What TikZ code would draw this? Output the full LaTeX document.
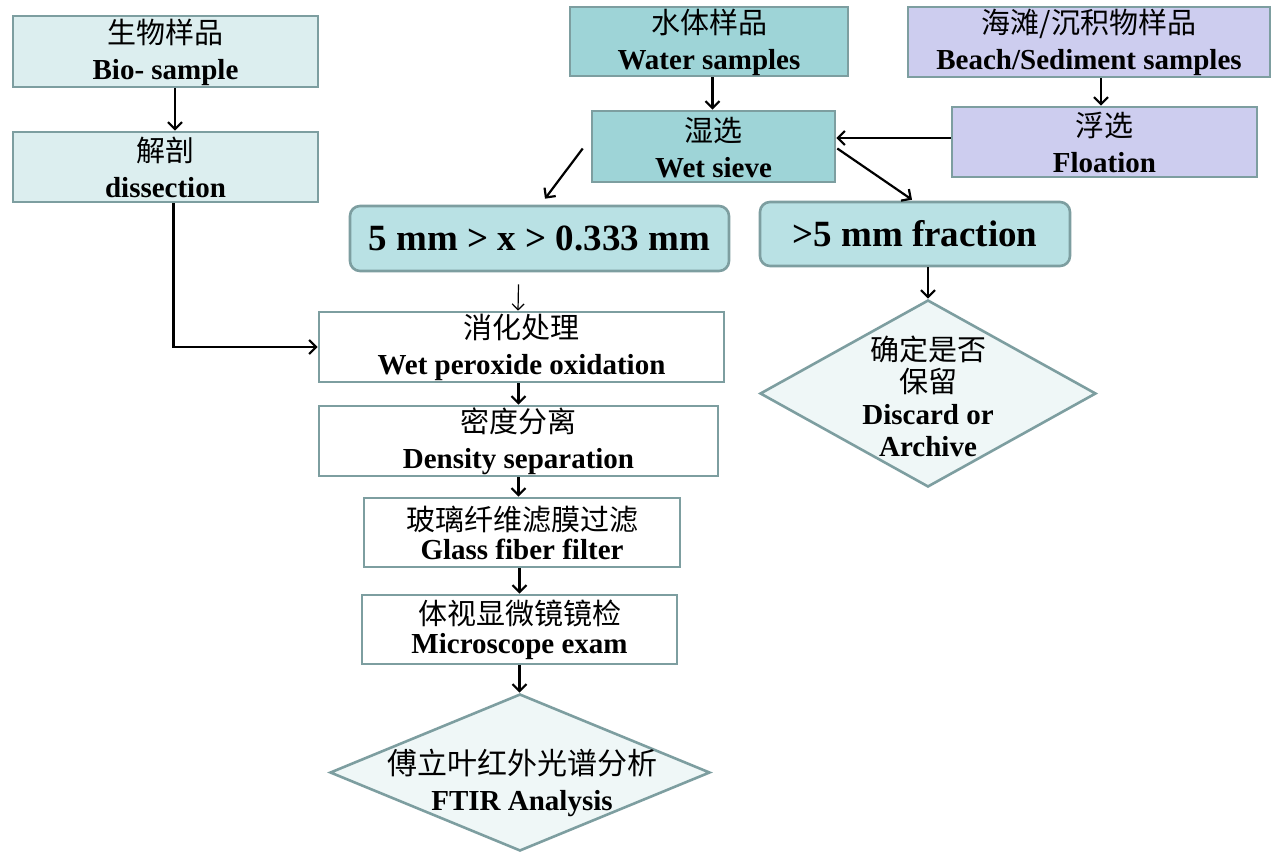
\documentclass[tikz,border=0pt]{standalone}
\usepackage{fontspec}
\setmainfont{Liberation Serif}
\newfontfamily\cjk{Noto Sans CJK SC}
\usetikzlibrary{arrows.meta,shapes.geometric}
\definecolor{bordc}{RGB}{125,158,160}
\definecolor{bioc}{RGB}{220,238,239}
\definecolor{waterc}{RGB}{158,212,215}
\definecolor{beachc}{RGB}{205,205,239}
\definecolor{midc}{RGB}{185,225,228}
\definecolor{diac}{RGB}{239,247,247}
\newcommand\cn[1]{{\cjk\fontsize{29}{36}\selectfont\rule{0pt}{26pt}#1}}
\newcommand\en[1]{{\bfseries #1}}
\tikzset{
  box/.style={draw=bordc, line width=2.6pt, align=center, inner sep=0pt,
    font=\fontsize{29}{36}\selectfont},
  rbox/.style={box, rounded corners=10pt, fill=midc, font=\fontsize{37}{40}\selectfont\bfseries},
  dia/.style={draw=bordc, line width=2.6pt, shape=diamond, inner sep=0pt, fill=diac},
  dtext/.style={align=center, inner sep=0pt, font=\fontsize{29}{32}\selectfont},
  arr/.style={line width=2.2pt, -{Straight Barb[length=7pt,width=14pt]}},
  tarr/.style={line width=1.2pt, -{Straight Barb[length=6pt,width=12pt]}}
}
\begin{document}
\begin{tikzpicture}[x=1pt,y=-1pt]
\useasboundingbox[fill=white] (0,0) rectangle (1272,854);
% top row
\node[box, fill=bioc, minimum width=305pt, minimum height=71pt] (bio) at (165.5,51.5) {\cn{生物样品}\\ \en{Bio- sample}};
\node[box, fill=bioc, minimum width=305pt, minimum height=70pt] (dis) at (165.5,167) {\cn{解剖}\\ \en{dissection}};
\node[box, fill=waterc, minimum width=278pt, minimum height=69pt] (water) at (709,41.5) {\cn{水体样品}\\ \en{Water samples}};
\node[box, fill=beachc, minimum width=362pt, minimum height=70pt] (beach) at (1089,42) {\cn{海滩/沉积物样品}\\ \en{Beach/Sediment samples}};
\node[box, fill=waterc, minimum width=243pt, minimum height=71pt] (sieve) at (713.5,146.5) {\cn{湿选}\\ \en{Wet sieve}};
\node[box, fill=beachc, minimum width=305pt, minimum height=70pt] (float) at (1104.5,142) {\cn{浮选}\\ \en{Floation}};
% fractions
\node[rbox, minimum width=379pt, minimum height=65pt] (mid) at (539.5,238.5) {5 mm > x > 0.333 mm};
\node[rbox, minimum width=310pt, minimum height=64pt] (big) at (915,234) {>5 mm fraction};
% processing chain
\node[box, fill=white, minimum width=405pt, minimum height=70pt] (digest) at (521.5,347) {\cn{消化处理}\\ \en{Wet peroxide oxidation}};
\node[box, fill=white, minimum width=399pt, minimum height=70pt] (density) at (518.5,441) {\cn{密度分离}\\ \en{Density separation}};
\node[box, fill=white, minimum width=316pt, minimum height=69pt] (glass) at (522,532.5) {\cn{玻璃纤维滤膜过滤}\\[-7pt] \en{Glass fiber filter}};
\node[box, fill=white, minimum width=315pt, minimum height=69pt] (micro) at (519.5,629.5) {\cn{体视显微镜镜检}\\[-7pt] \en{Microscope exam}};
% diamonds
\node[dia, minimum width=380pt, minimum height=157pt] (ftir) at (520,772.5) {};
\node[dtext] (ftirt) at (522,783) {{\cjk\fontsize{30}{36}\selectfont 傅立叶红外光谱分析}\\[4pt] \en{FTIR Analysis}};
\node[dia, minimum width=336pt, minimum height=187pt] (disc) at (928,393.5) {};
\node[dtext] (disct) at (928,396) {{\cjk 确定是否}\\ {\cjk 保留}\\ \en{Discard or}\\ \en{Archive}};
% connectors
\draw[arr] ([xshift=9.5pt]bio.south) -- ([xshift=9.5pt]dis.north);
\draw[arr] ([xshift=8pt]dis.south) |- (digest.west);
\draw[arr] (water.south -| sieve.north) ++(-1,0) -- ([xshift=-1pt]sieve.north);
\draw[arr] ([xshift=-3.5pt]float.north |- beach.south) -- ([xshift=-3.5pt]float.north);
\draw[arr] ([shift={(0,-4)}]float.west) -- ([shift={(0,-4)}]float.west -| sieve.east);
\draw[arr] ([shift={(-8,2)}]sieve.west) -- ([shift={(5.5,-6)}]mid.north);
\draw[arr] ([shift={(1,2)}]sieve.east) -- ([shift={(-3,-1)}]big.north);
\draw[tarr] ([shift={(-21,12)}]mid.south) -- ([shift={(-3.5,0)}]digest.north);
\draw[arr] (density.north |- digest.south) -- (density.north);
\draw[arr] (density.south) -- (density.south |- glass.north);
\draw[arr] (micro.north |- glass.south) -- (micro.north);
\draw[arr] (micro.south) -- (micro.south |- ftir.north);
\draw[arr] (disc.north |- big.south) -- (disc.north);
\end{tikzpicture}
\end{document}
